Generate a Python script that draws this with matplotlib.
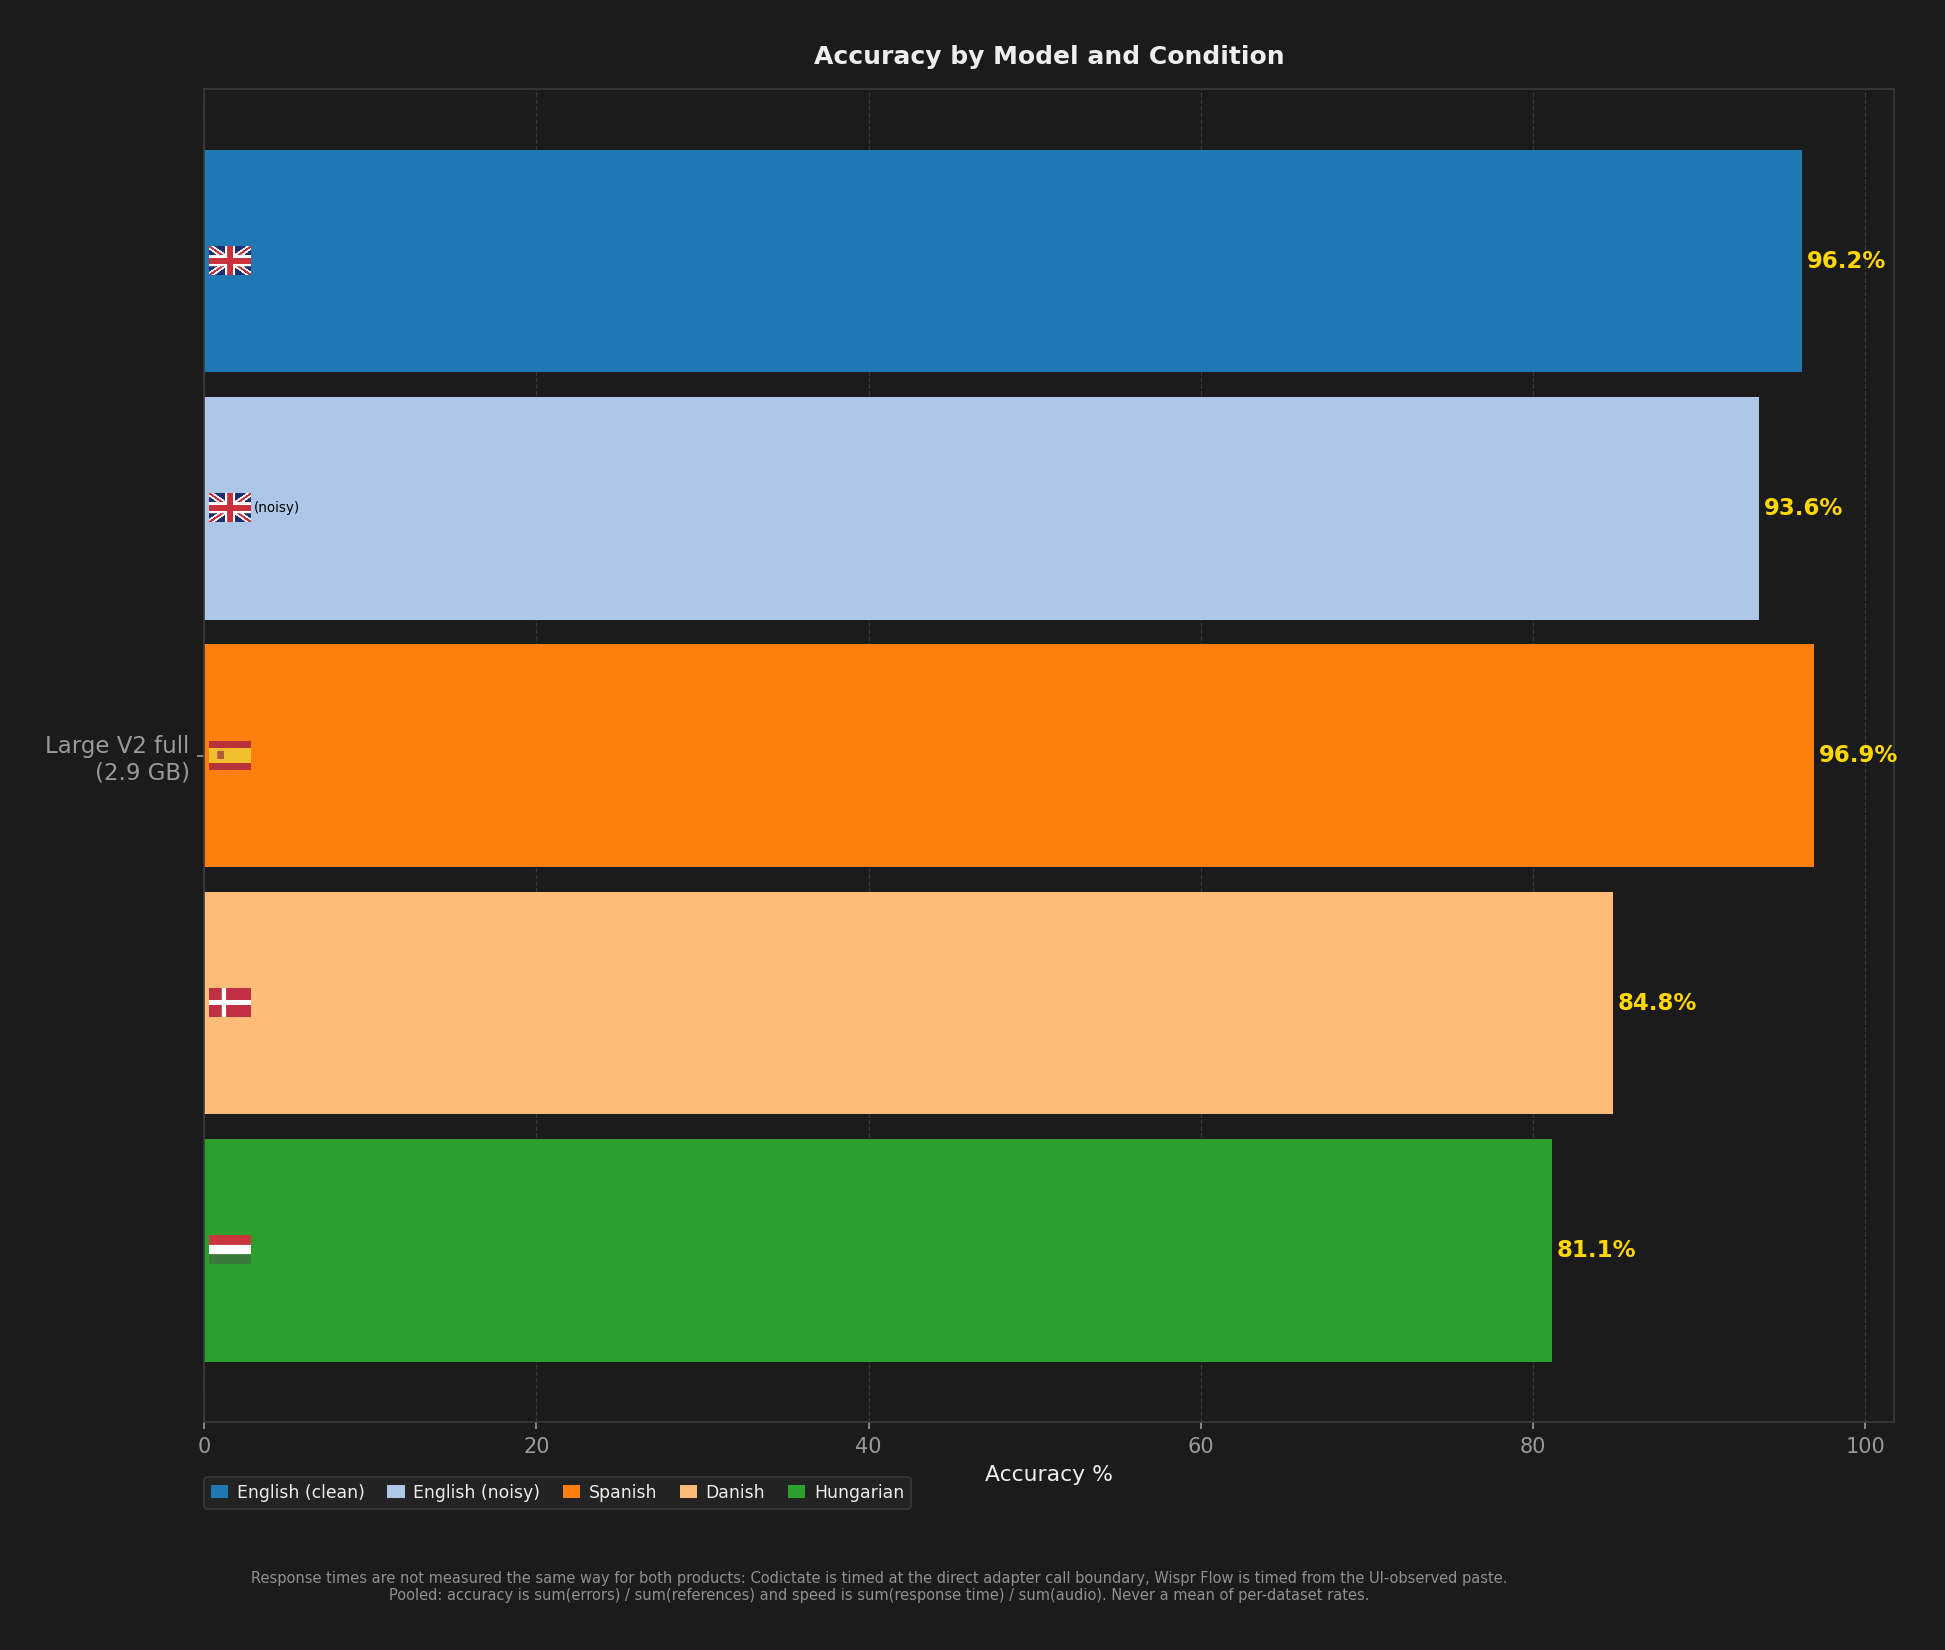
import numpy as np
import matplotlib
matplotlib.use("Agg")
import matplotlib.pyplot as plt
from matplotlib.offsetbox import OffsetImage, AnnotationBbox

# Data
model_label = "Large V2 full\n(2.9 GB)"
conditions = ["English (clean)", "English (noisy)", "Spanish", "Danish", "Hungarian"]
accuracy = [96.2, 93.6, 96.9, 84.8, 81.1]
flag_codes = ["gb", "gb", "es", "dk", "hu"]
flag_suffix = ["", "(noisy)", "", "", ""]
colors = ["#1f77b4", "#aec7e8", "#ff7f0e", "#ffbb78", "#2ca02c"]

BG = "#1b1b1b"
FOOTER = (
    "Response times are not measured the same way for both products: Codictate is timed at the "
    "direct adapter call boundary, Wispr Flow is timed from the UI-observed paste.\n"
    "Pooled: accuracy is sum(errors) / sum(references) and speed is sum(response time) / sum(audio). "
    "Never a mean of per-dataset rates."
)


def hexrgb(h):
    h = h.lstrip("#")
    return [int(h[i:i + 2], 16) / 255 for i in (0, 2, 4)]


def make_flag(code, h=54, w=80):
    img = np.ones((h, w, 3))
    yy, xx = np.mgrid[0:h, 0:w]
    if code == "gb":
        img[:] = hexrgb("#1f2f6e")
        u = xx / w
        v = yy / h
        d1 = np.abs(v - u)
        d2 = np.abs(v - (1 - u))
        img[(d1 < 0.12) | (d2 < 0.12)] = 1.0
        img[(d1 < 0.045) | (d2 < 0.045)] = hexrgb("#c8303c")
        img[(np.abs(u - 0.5) < 0.12) | (np.abs(v - 0.5) < 0.19)] = 1.0
        img[(np.abs(u - 0.5) < 0.065) | (np.abs(v - 0.5) < 0.1)] = hexrgb("#c8303c")
    elif code == "es":
        img[:] = hexrgb("#b8323a")
        img[(yy >= h // 4) & (yy < h - h // 4)] = hexrgb("#f1bf2c")
        img[(yy >= h // 3) & (yy < h // 2 + 6) & (xx >= 16) & (xx < 28)] = hexrgb("#b05a3a")
    elif code == "dk":
        img[:] = hexrgb("#c12f43")
        img[(np.abs(yy - h / 2 + 0.5) < 5) | (np.abs(xx - 28) < 5)] = 1.0
    elif code == "hu":
        img[: h // 3] = hexrgb("#c9363e")
        img[h // 3: 2 * h // 3] = 1.0
        img[2 * h // 3:] = hexrgb("#3a7a3a")
    return img


fig = plt.figure(figsize=(12.967, 11), dpi=150, facecolor=BG)
ax = fig.add_axes([0.105, 0.138, 0.869, 0.808])
ax.set_facecolor(BG)

step = 0.18
y_pos = np.arange(len(conditions)) * step
bars = ax.barh(y_pos, accuracy, height=step * 0.9, color=colors)
for b, c in zip(bars, conditions):
    b.set_label(c)

ax.set_xlim(0, max(accuracy) * 1.05)
ax.invert_yaxis()
ax.set_yticks([y_pos[2]])
ax.set_yticklabels([model_label], fontsize=11, color="#9a9a9a")

for y, v in zip(y_pos, accuracy):
    ax.text(v + 0.3, y, f"{v:.1f}%", va="center", ha="left",
            color="#ffd700", fontsize=11, fontweight="bold")

for y, code, suffix in zip(y_pos, flag_codes, flag_suffix):
    ab = AnnotationBbox(OffsetImage(make_flag(code), zoom=0.25), (0.3, y),
                        box_alignment=(0, 0.5), frameon=False, pad=0)
    ax.add_artist(ab)
    if suffix:
        ax.text(3.0, y, suffix, va="center", ha="left", color="black", fontsize=6.5)

ax.set_title("Accuracy by Model and Condition", color="#eeeeee",
             fontsize=12, fontweight="bold", pad=12)
ax.set_xlabel("Accuracy %", color="#eeeeee", fontsize=10.5)
ax.tick_params(axis="x", colors="#9a9a9a", labelsize=10)
ax.tick_params(axis="y", colors="#9a9a9a")
ax.grid(axis="x", color="#3a3a3a", linestyle="--", linewidth=0.6)
ax.set_axisbelow(True)
for s in ax.spines.values():
    s.set_color("#3a3a3a")

leg = ax.legend(loc="upper left", bbox_to_anchor=(0, -0.041), ncol=5,
                fontsize=8.3, frameon=True, borderaxespad=0,
                handlelength=1.0, handleheight=0.8, columnspacing=1.3,
                handletextpad=0.5)
leg.get_frame().set_facecolor("#262626")
leg.get_frame().set_edgecolor("#3a3a3a")
for t in leg.get_texts():
    t.set_color("#eeeeee")

fig.text(0.452, 0.048, FOOTER, ha="center", va="top", fontsize=7.0,
         color="#909090", linespacing=1.2)

fig.savefig("out.png", dpi=150, facecolor=BG)
